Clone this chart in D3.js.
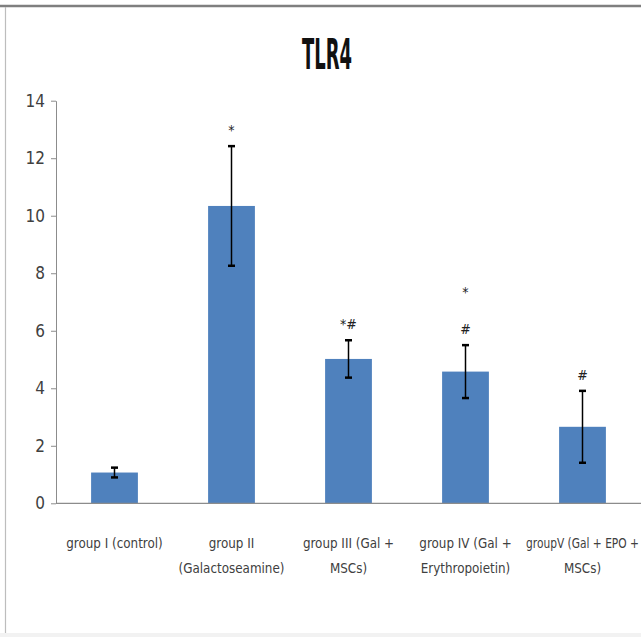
<!DOCTYPE html>
<html>
<head>
<meta charset="utf-8">
<script src="https://cdn.jsdelivr.net/npm/d3@7"></script>
<style>
	body { margin: 0; background: #fff; }
	svg { display: block; }
	text { font-family: "Liberation Sans Narrow", "DejaVu Sans Condensed", "Liberation Sans", sans-serif; }
</style>
</head>
<body>
<svg id="chart"></svg>
<script>
(function(){
	// Data
	const groups = ["g1", "g2", "g3", "g4", "g5"];
	const groupLabels = [
		["group I (control)"],
		["group II", "(Galactoseamine)"],
		["group III (Gal +", "MSCs)"],
		["group IV (Gal +", "Erythropoietin)"],
		["groupV (Gal + EPO +", "MSCs)"]
	];
	const values = [1.07, 10.34, 5.02, 4.58, 2.66];
	const errors = [0.17, 2.08, 0.65, 0.92, 1.25];
	const marks = [[], ["*"], ["*#"], ["*", "#"], ["#"]];
	const yTicks = [0, 2, 4, 6, 8, 10, 12, 14];

	const width = 641;
	const height = 637;
	const plot = {left: 56, right: 641, top: 100.7, bottom: 503.3};

	const svg = d3.select("#chart")
			.attr("width", width)
			.attr("height", height);

	// frame of the scanned figure
	svg.append("line")
			.attr("x1", 0).attr("x2", width)
			.attr("y1", 6).attr("y2", 6)
			.style("stroke", "#7f7f7f")
			.style("stroke-width", 2.5);
	svg.append("line")
			.attr("x1", 5.5).attr("x2", 5.5)
			.attr("y1", 7).attr("y2", height)
			.style("stroke", "#bdbdbd")
			.style("stroke-width", 1.2);
	svg.append("rect")
			.attr("x", 0).attr("y", 633)
			.attr("width", width).attr("height", 4)
			.style("fill", "#f2f2f2");

	// Scales
	const x = d3.scaleBand()
			.domain(groups)
			.range([plot.left, plot.right])
			.paddingInner(0.6)
			.paddingOuter(0.3);

	const y = d3.scaleLinear()
			.domain([0, 14])
			.range([plot.bottom, plot.top]);

	// Title
	svg.append("text")
			.attr("x", 327)
			.attr("y", 69)
			.attr("text-anchor", "middle")
			.attr("textLength", 50)
			.attr("lengthAdjust", "spacingAndGlyphs")
			.style("font-size", "42px")
			.style("font-weight", "bold")
			.style("fill", "#111")
			.text("TLR4");

	// Y axis
	const yAxisG = svg.append("g")
			.attr("transform", `translate(${plot.left},0)`)
			.call(d3.axisLeft(y).tickValues(yTicks).tickSize(5).tickSizeOuter(0).tickPadding(6));
	yAxisG.select(".domain").style("stroke", "#8c8c8c");
	yAxisG.selectAll(".tick line").style("stroke", "#8c8c8c");
	yAxisG.selectAll(".tick text")
			.style("font-size", "17px")
			.style("fill", "#404040");

	// Bars
	const data = groups.map((g, i) => ({
		id: g, value: values[i], err: errors[i], label: groupLabels[i], mark: marks[i]
	}));

	svg.selectAll(".bar")
		.data(data)
		.enter().append("rect")
			.attr("class", "bar")
			.attr("x", d => x(d.id))
			.attr("y", d => y(d.value))
			.attr("width", x.bandwidth())
			.attr("height", d => y(0) - y(d.value))
			.style("fill", "#4f81bd");

	// X axis line
	svg.append("line")
			.attr("x1", plot.left).attr("x2", plot.right)
			.attr("y1", y(0)).attr("y2", y(0))
			.style("stroke", "#8c8c8c")
			.style("stroke-width", 1.2);

	// Error bars
	const eb = svg.selectAll(".err")
		.data(data)
		.enter().append("g")
			.attr("class", "err")
			.attr("transform", d => `translate(${x(d.id) + x.bandwidth() / 2},0)`);
	eb.append("line")
			.attr("y1", d => y(d.value + d.err))
			.attr("y2", d => y(d.value - d.err))
			.style("stroke", "#000")
			.style("stroke-width", 1.5);
	eb.selectAll(".cap")
		.data(d => [d.value + d.err, d.value - d.err])
		.enter().append("line")
			.attr("class", "cap")
			.attr("x1", -3.5).attr("x2", 3.5)
			.attr("y1", d => y(d)).attr("y2", d => y(d))
			.style("stroke", "#000")
			.style("stroke-width", 2.5);

	// Significance marks
	eb.each(function(d) {
		const top = y(d.value + d.err);
		const n = d.mark.length;
		d3.select(this).selectAll(".mark")
			.data(d.mark)
			.enter().append("text")
				.attr("class", "mark")
				.attr("x", 0)
				.attr("y", (m, j) => top - 16 - (n - 1 - j) * 37)
				.attr("dy", "0.35em")
				.attr("text-anchor", "middle")
				.style("font-size", "14px")
				.style("fill", "#222")
				.text(m => m);
	});

	// Category labels (one text per line, squeezed a bit like the original narrow font)
	const squeeze = 0.95;
	data.forEach((d, i) => {
		const cx = x(d.id) + x.bandwidth() / 2;
		d.label.forEach((l, j) => {
			const t = svg.append("text")
					.attr("class", "xlabel")
					.attr("x", cx)
					.attr("y", 548 + j * 25)
					.attr("text-anchor", "middle")
					.style("font-size", "14px")
					.style("fill", "#404040")
					.text(l);
			const w = t.node().getComputedTextLength();
			const k = Math.min(squeeze, (width - 2 - cx) * 2 / w);
			t.attr("transform", `translate(${cx},0) scale(${k},1) translate(${-cx},0)`);
		});
	});
}());
</script>
</body>
</html>
